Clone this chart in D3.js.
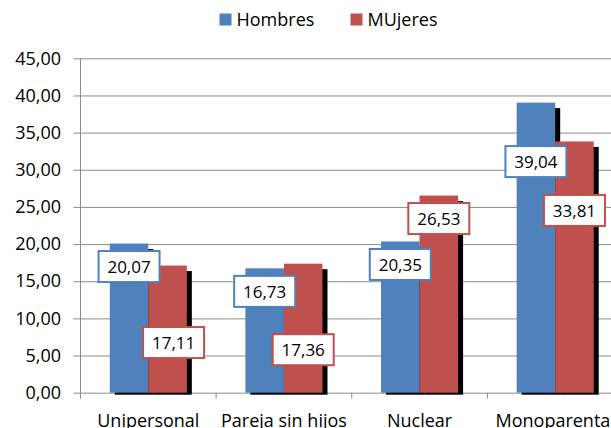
<!DOCTYPE html>
<html>
<head>
<meta charset="utf-8">
<script src="https://cdn.jsdelivr.net/npm/d3@7"></script>
<style>
    body { margin: 0; background: #fff; }
    svg { display: block; font-family: 'Open Sans', sans-serif; }
</style>
</head>
<body>
<svg></svg>
<script>
const WIDTH = 611;
const HEIGHT = 428;

// data
const categories = ['Unipersonal', 'Pareja sin hijos', 'Nuclear', 'Monoparental'];
const seriesNames = ['Hombres', 'MUjeres'];
const hombres = [20.07, 16.73, 20.35, 39.04];
const mujeres = [17.11, 17.36, 26.53, 33.81];
const yTicks = [0, 5, 10, 15, 20, 25, 30, 35, 40, 45];

// where each data label box sits, px from the top of its bar (dx, dy)
const labelNudge = [
    [[0, 23], [0, 23], [0, 23], [0, 59]],
    [[6, 77], [0, 86], [0, 23], [0, 69]]
];

const colors = ['#4F81BD', '#C0504D'];
const gridColor = '#8c8c8c';

const plot = { left: 80.5, right: 623, top: 58.3, bottom: 392.7 };

const svg = d3.select('svg')
    .attr('width', WIDTH)
    .attr('height', HEIGHT);

const locale = d3.formatLocale({ decimal: ',', thousands: '.', grouping: [3], currency: ['', '€'] });
const fmt = locale.format('.2f');

const x = d3.scaleBand()
    .domain(categories)
    .range([plot.left, plot.right]);
const xInner = d3.scaleBand()
    .domain(seriesNames)
    .range([0, x.bandwidth()])
    .paddingOuter(0.76);
const y = d3.scaleLinear()
    .domain([0, 45])
    .range([plot.bottom, plot.top]);

const rows = categories.map((c, i) => ({ cat: c, values: [hombres[i], mujeres[i]] }));
const bars = [];
rows.forEach((r, ci) => {
    r.values.forEach((v, si) => {
        bars.push({ cat: r.cat, ci: ci, si: si, series: seriesNames[si], value: v });
    });
});

// gridlines
svg.append('g')
    .attr('class', 'grid')
    .attr('transform', `translate(${plot.left},0)`)
    .call(d3.axisLeft(y).tickValues(yTicks).tickSize(-(plot.right - plot.left)).tickFormat(''))
    .call(g => g.select('.domain').remove())
    .call(g => g.selectAll('line').attr('stroke', gridColor).attr('stroke-width', 1));

// y axis with labels
svg.append('g')
    .attr('class', 'y-axis')
    .attr('transform', `translate(${plot.left},0)`)
    .call(d3.axisLeft(y).tickValues(yTicks).tickSize(7).tickSizeOuter(0).tickPadding(12.5).tickFormat(fmt))
    .call(g => g.select('.domain').remove())
    .call(g => g.selectAll('line').attr('stroke', gridColor))
    .call(g => g.selectAll('text')
        .attr('fill', '#000')
        .style('font-size', '18px')
        .style('font-family', "'Open Sans', sans-serif"));

svg.append('line')
    .attr('x1', plot.left).attr('x2', plot.left)
    .attr('y1', plot.top).attr('y2', plot.bottom + 6)
    .attr('stroke', gridColor);

// category boundary ticks
svg.append('g')
    .selectAll('line')
    .data(categories.slice(1))
    .join('line')
        .attr('x1', d => x(d)).attr('x2', d => x(d))
        .attr('y1', plot.bottom).attr('y2', plot.bottom + 6)
        .attr('stroke', gridColor);

// shadows
svg.append('g')
    .attr('class', 'shadows')
    .selectAll('rect')
    .data(bars)
    .join('rect')
        .attr('x', d => x(d.cat) + xInner(d.series) + 5)
        .attr('y', d => y(d.value) + 5.5)
        .attr('width', xInner.bandwidth())
        .attr('height', d => y(0) - y(d.value) - 3.5)
        .attr('fill', '#000');

// bars
svg.append('g')
    .attr('class', 'bars')
    .selectAll('rect')
    .data(bars)
    .join('rect')
        .attr('x', d => x(d.cat) + xInner(d.series))
        .attr('y', d => y(d.value))
        .attr('width', xInner.bandwidth())
        .attr('height', d => y(0) - y(d.value))
        .attr('fill', d => colors[d.si]);

// category labels
svg.append('g')
    .selectAll('text')
    .data(categories)
    .join('text')
        .attr('x', d => x(d) + x.bandwidth() / 2)
        .attr('y', 426.5)
        .attr('text-anchor', 'middle')
        .style('font-size', '18px')
        .attr('fill', '#000')
        .text(d => d);

// data labels
const labels = svg.append('g')
    .attr('class', 'labels')
    .selectAll('g')
    .data(bars)
    .join('g')
        .attr('transform', d => {
            const n = labelNudge[d.si][d.ci];
            const cx = x(d.cat) + xInner(d.series) + xInner.bandwidth() / 2 + n[0];
            const cy = y(d.value) + n[1];
            return `translate(${cx},${cy})`;
        });

labels.append('rect')
    .attr('x', -30.5)
    .attr('y', -15.5)
    .attr('width', 61)
    .attr('height', 31)
    .attr('fill', '#fff')
    .attr('stroke', d => colors[d.si])
    .attr('stroke-width', 2);

labels.append('text')
    .attr('text-anchor', 'middle')
    .attr('dy', '0.36em')
    .style('font-size', '17px')
    .attr('fill', '#000')
    .text(d => fmt(d.value));

// legend
const legend = svg.append('g')
    .selectAll('g')
    .data(seriesNames)
    .join('g')
        .attr('transform', (d, i) => `translate(${[219.5, 350.5][i]},13.5)`);

legend.append('rect')
    .attr('width', 12)
    .attr('height', 12)
    .attr('fill', (d, i) => colors[i]);

legend.append('text')
    .attr('x', 17)
    .attr('y', 12.5)
    .style('font-size', '18px')
    .attr('fill', '#000')
    .text(d => d);
</script>
</body>
</html>
